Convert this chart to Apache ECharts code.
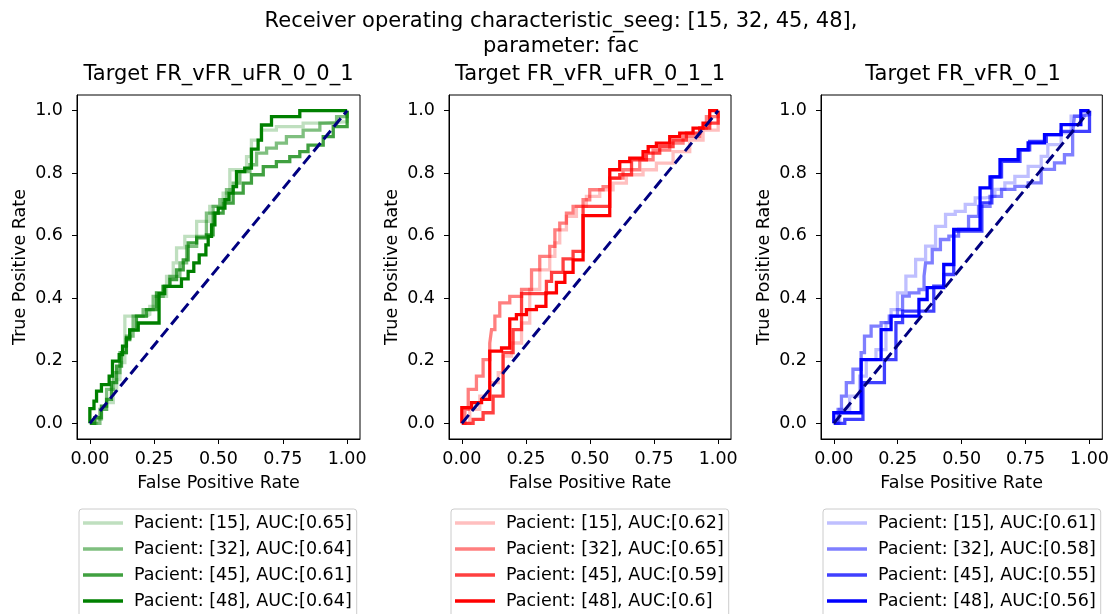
<!DOCTYPE html>
<html>
<head>
<meta charset="utf-8">
<script src="https://cdn.jsdelivr.net/npm/echarts@6/dist/echarts.min.js"></script>
<style>
  html, body { margin: 0; padding: 0; background: #fff; }
  #chart { width: 1112px; height: 614px; }
</style>
</head>
<body>
<div id="chart"></div>
<script>
const patients = [15, 32, 45, 48];
const targets = ["FR_vFR_uFR_0_0_1", "FR_vFR_uFR_0_1_1", "FR_vFR_0_1"];
const aucs = [
  ["0.65", "0.64", "0.61", "0.64"],
  ["0.62", "0.65", "0.59", "0.6"],
  ["0.61", "0.58", "0.55", "0.56"]
];
const xTicks = [0, 0.25, 0.5, 0.75, 1];
const yTicks = [0, 0.2, 0.4, 0.6, 0.8, 1];
const chance = [[0, 0], [1, 1]];

// target FR_vFR_uFR_0_0_1 (green)
const greenP15 = [[0, 0], [0.026, 0.013], [0.045, 0.045], [0.065, 0.066], [0.091, 0.066], [0.091, 0.109], [0.104, 0.14], [0.117, 0.194], [0.136, 0.236], [0.136, 0.343], [0.22, 0.348], [0.233, 0.374], [0.259, 0.406], [0.298, 0.47], [0.324, 0.513], [0.337, 0.561], [0.369, 0.598], [0.415, 0.646], [0.466, 0.694], [0.518, 0.736], [0.544, 0.811], [0.609, 0.853], [0.628, 0.906], [0.667, 0.938], [0.725, 0.949], [0.829, 0.96], [0.907, 0.965], [1, 0.986], [1, 1]];
const greenP32 = [[0, 0], [0.039, 0.045], [0.065, 0.109], [0.091, 0.162], [0.117, 0.226], [0.142, 0.279], [0.168, 0.343], [0.207, 0.364], [0.246, 0.406], [0.285, 0.438], [0.311, 0.47], [0.35, 0.513], [0.376, 0.566], [0.415, 0.598], [0.453, 0.672], [0.479, 0.694], [0.505, 0.715], [0.531, 0.747], [0.557, 0.768], [0.583, 0.805], [0.622, 0.827], [0.648, 0.864], [0.687, 0.88], [0.725, 0.896], [0.764, 0.917], [0.829, 0.938], [0.894, 0.96], [0.959, 0.981], [1, 1]];
const greenP45 = [[0, 0], [0.019, 0.018], [0.045, 0.055], [0.065, 0.077], [0.084, 0.13], [0.104, 0.183], [0.123, 0.226], [0.142, 0.268], [0.155, 0.3], [0.181, 0.343], [0.22, 0.364], [0.259, 0.417], [0.285, 0.438], [0.311, 0.46], [0.337, 0.491], [0.363, 0.523], [0.382, 0.577], [0.415, 0.593], [0.453, 0.603], [0.479, 0.672], [0.518, 0.704], [0.557, 0.736], [0.596, 0.768], [0.628, 0.795], [0.674, 0.821], [0.725, 0.837], [0.777, 0.853], [0.816, 0.869], [0.848, 0.89], [0.907, 0.917], [0.946, 0.949], [1, 1]];
const greenP48 = [[0, 0], [0, 0.047], [0.016, 0.071], [0.026, 0.103], [0.045, 0.124], [0.075, 0.151], [0.088, 0.199], [0.114, 0.22], [0.127, 0.247], [0.142, 0.273], [0.155, 0.298], [0.188, 0.321], [0.269, 0.415], [0.291, 0.438], [0.356, 0.462], [0.382, 0.486], [0.404, 0.513], [0.425, 0.539], [0.451, 0.571], [0.46, 0.598], [0.473, 0.635], [0.486, 0.672], [0.499, 0.688], [0.525, 0.715], [0.541, 0.736], [0.557, 0.757], [0.57, 0.805], [0.602, 0.816], [0.628, 0.877], [0.654, 0.906], [0.667, 0.954], [0.706, 0.981], [0.816, 1], [1, 1]];

// target FR_vFR_uFR_0_1_1 (red)
const redP15 = [[0, 0], [0.031, 0.045], [0.07, 0.087], [0.109, 0.13], [0.142, 0.162], [0.161, 0.215], [0.194, 0.257], [0.233, 0.321], [0.265, 0.428], [0.304, 0.491], [0.343, 0.534], [0.363, 0.577], [0.382, 0.619], [0.408, 0.662], [0.447, 0.694], [0.486, 0.726], [0.538, 0.747], [0.59, 0.768], [0.642, 0.795], [0.707, 0.811], [0.759, 0.832], [0.824, 0.869], [0.889, 0.906], [0.941, 0.938], [1, 1]];
const redP32 = [[0, 0], [0.012, 0.045], [0.025, 0.109], [0.057, 0.151], [0.083, 0.204], [0.109, 0.257], [0.116, 0.3], [0.129, 0.343], [0.148, 0.385], [0.187, 0.406], [0.233, 0.428], [0.272, 0.491], [0.304, 0.534], [0.343, 0.566], [0.363, 0.619], [0.382, 0.64], [0.408, 0.672], [0.434, 0.694], [0.473, 0.715], [0.499, 0.747], [0.551, 0.757], [0.577, 0.784], [0.629, 0.811], [0.694, 0.843], [0.746, 0.874], [0.811, 0.896], [0.863, 0.917], [0.928, 0.944], [0.954, 0.981], [1, 1]];
const redP45 = [[0, 0], [0.044, 0.013], [0.083, 0.034], [0.122, 0.087], [0.161, 0.226], [0.2, 0.3], [0.233, 0.415], [0.33, 0.454], [0.35, 0.483], [0.395, 0.526], [0.434, 0.55], [0.473, 0.694], [0.577, 0.784], [0.616, 0.795], [0.662, 0.843], [0.72, 0.864], [0.772, 0.885], [0.824, 0.906], [0.876, 0.928], [0.928, 0.944], [0.967, 0.96], [1, 1]];
const redP48 = [[0, 0], [0, 0.05], [0.038, 0.066], [0.077, 0.077], [0.109, 0.231], [0.155, 0.241], [0.187, 0.334], [0.213, 0.348], [0.252, 0.364], [0.291, 0.374], [0.328, 0.417], [0.369, 0.451], [0.402, 0.483], [0.434, 0.523], [0.473, 0.664], [0.577, 0.811], [0.616, 0.837], [0.655, 0.848], [0.707, 0.869], [0.727, 0.885], [0.759, 0.896], [0.811, 0.917], [0.85, 0.928], [0.902, 0.944], [0.941, 0.96], [0.967, 1], [1, 1]];

// target FR_vFR_0_1 (blue)
const blueP15 = [[0, 0], [0.023, 0.045], [0.062, 0.087], [0.101, 0.151], [0.127, 0.204], [0.165, 0.236], [0.204, 0.322], [0.224, 0.364], [0.249, 0.417], [0.282, 0.471], [0.32, 0.524], [0.359, 0.567], [0.398, 0.63], [0.437, 0.668], [0.475, 0.678], [0.514, 0.7], [0.553, 0.721], [0.592, 0.726], [0.63, 0.748], [0.669, 0.769], [0.708, 0.79], [0.76, 0.822], [0.811, 0.854], [0.837, 0.891], [0.889, 0.929], [0.928, 0.982], [0.979, 0.993], [1, 1]];
const blueP32 = [[0, 0], [0.017, 0.045], [0.03, 0.087], [0.049, 0.13], [0.075, 0.173], [0.107, 0.226], [0.12, 0.279], [0.146, 0.311], [0.185, 0.322], [0.217, 0.343], [0.249, 0.364], [0.269, 0.407], [0.295, 0.417], [0.333, 0.428], [0.353, 0.471], [0.359, 0.513], [0.385, 0.556], [0.417, 0.588], [0.45, 0.599], [0.488, 0.62], [0.527, 0.662], [0.566, 0.694], [0.611, 0.726], [0.656, 0.748], [0.708, 0.758], [0.76, 0.769], [0.811, 0.812], [0.863, 0.833], [0.902, 0.859], [0.934, 0.886], [0.934, 0.929], [0.941, 0.982], [0.966, 0.987], [1, 1]];
const blueP45 = [[0, 0], [0.043, 0.013], [0.114, 0.061], [0.114, 0.13], [0.198, 0.204], [0.243, 0.322], [0.269, 0.359], [0.391, 0.439], [0.43, 0.476], [0.469, 0.615], [0.579, 0.705], [0.618, 0.788], [0.656, 0.838], [0.728, 0.875], [0.766, 0.902], [0.831, 0.923], [0.889, 0.934], [1, 1]];
const blueP48 = [[0, 0], [0, 0.034], [0.107, 0.061], [0.107, 0.204], [0.185, 0.3], [0.224, 0.343], [0.333, 0.396], [0.365, 0.434], [0.43, 0.508], [0.469, 0.62], [0.572, 0.753], [0.611, 0.788], [0.65, 0.843], [0.721, 0.875], [0.76, 0.897], [0.824, 0.923], [0.889, 0.955], [0.966, 1], [1, 1]];

const curves = [
  [greenP15, greenP32, greenP45, greenP48],
  [redP15, redP32, redP45, redP48],
  [blueP15, blueP32, blueP45, blueP48]
];
const baseColors = [[0, 128, 0], [255, 0, 0], [0, 0, 255]];
const alphas = [0.25, 0.5, 0.75, 1];

const font = "DejaVu Sans";
const labelSize = 17.5;
const grids = [
  { left: 77, top: 95, width: 283, height: 344 },
  { left: 449, top: 95, width: 282, height: 344 },
  { left: 821, top: 95, width: 284, height: 344 }
];

const chart = echarts.init(document.getElementById("chart"), null, { renderer: "canvas" });

function seriesName(p, i) {
  return `Pacient: [${patients[i]}], AUC:[${aucs[p][i]}]`;
}

const series = [];
const legends = [];
curves.forEach((group, p) => {
  const [r, g, b] = baseColors[p];
  group.forEach((data, i) => {
    const color = `rgba(${r},${g},${b},${alphas[i]})`;
    series.push({
      name: seriesName(p, i),
      type: "line",
      xAxisIndex: p,
      yAxisIndex: p,
      data: data,
      step: "end",
      symbol: "none",
      silent: true,
      lineStyle: { color: color, width: 3.3, join: "miter" },
      itemStyle: { color: color },
      z: 2 + i
    });
  });
  series.push({
    name: "chance" + p,
    type: "line",
    xAxisIndex: p,
    yAxisIndex: p,
    data: chance,
    symbol: "none",
    silent: true,
    lineStyle: { color: "#000080", width: 3, type: [11, 5] },
    z: 10
  });
  legends.push({
    orient: "vertical",
    left: grids[p].left + 2,
    top: 509,
    height: 200,
    data: patients.map((_, i) => seriesName(p, i)),
    icon: "rect",
    itemWidth: 40,
    itemHeight: 3.5,
    itemGap: 8,
    padding: [5, 5, 8, 4],
    borderColor: "#cccccc",
    borderWidth: 1,
    borderRadius: 3,
    backgroundColor: "#ffffff",
    selectedMode: false,
    textStyle: { fontFamily: font, fontSize: labelSize, lineHeight: 18, color: "#000", padding: [0, 0, 0, 6] }
  });
});

const axisCommon = {
  type: "value",
  min: -0.05,
  max: 1.05,
  splitLine: { show: false },
  axisLine: { show: true, onZero: false, lineStyle: { color: "#000", width: 1 } },
  axisTick: { show: true, inside: false, length: 5, lineStyle: { color: "#000" } },
  nameLocation: "middle",
  nameTextStyle: { fontFamily: font, fontSize: labelSize, color: "#000" }
};

const xAxes = grids.map((_, p) => ({
  ...axisCommon,
  gridIndex: p,
  name: "False Positive Rate",
  nameGap: 35,
  axisTick: { ...axisCommon.axisTick, customValues: xTicks },
  axisLabel: {
    customValues: xTicks,
    margin: 11,
    fontFamily: font,
    fontSize: labelSize,
    color: "#000",
    formatter: (v) => v.toFixed(2)
  }
}));

const yAxes = grids.map((_, p) => ({
  ...axisCommon,
  gridIndex: p,
  name: "True Positive Rate",
  nameGap: 48,
  axisTick: { ...axisCommon.axisTick, customValues: yTicks },
  axisLabel: {
    customValues: yTicks,
    margin: 14,
    fontFamily: font,
    fontSize: labelSize,
    color: "#000",
    formatter: (v) => v.toFixed(1)
  }
}));

const titleStyle = { fontFamily: font, fontSize: 21, fill: "#000", textAlign: "center", textVerticalAlign: "middle" };

chart.setOption({
  animation: false,
  backgroundColor: "#fff",
  grid: grids.map((g) => ({ ...g, show: true, borderColor: "#000", borderWidth: 1, backgroundColor: "#fff" })),
  xAxis: xAxes,
  yAxis: yAxes,
  legend: legends,
  graphic: [
    { type: "text", x: 561, y: 22, style: { ...titleStyle, text: "Receiver operating characteristic_seeg: [15, 32, 45, 48]," } },
    { type: "text", x: 561, y: 47, style: { ...titleStyle, text: "parameter: fac" } },
    ...grids.map((g, p) => ({
      type: "text",
      x: g.left + g.width / 2,
      y: 75,
      style: { ...titleStyle, text: "Target " + targets[p] }
    }))
  ],
  series: series
});
</script>
</body>
</html>
